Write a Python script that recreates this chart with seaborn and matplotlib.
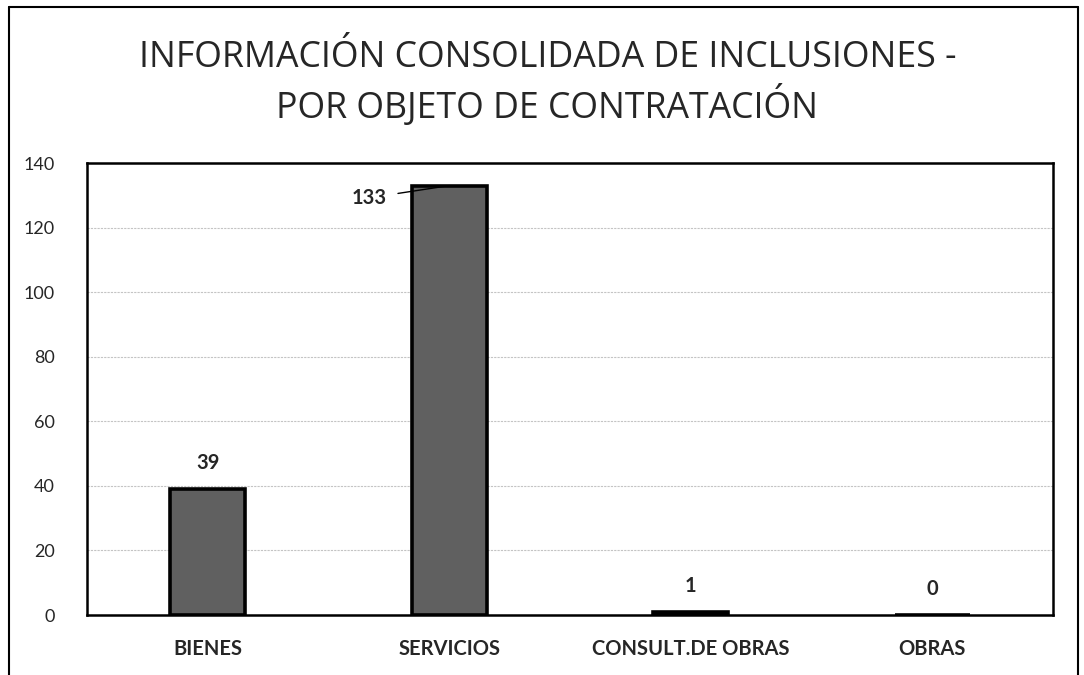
import matplotlib
matplotlib.use("Agg")
import matplotlib.pyplot as plt
import seaborn as sns
import pandas as pd
from matplotlib.lines import Line2D

categories = ["BIENES", "SERVICIOS", "CONSULT.DE OBRAS", "OBRAS"]
values = [39, 133, 1, 0]
y_ticks = [0, 20, 40, 60, 80, 100, 120, 140]
title_lines = ["INFORMACIÓN CONSOLIDADA DE INCLUSIONES -", "POR OBJETO DE CONTRATACIÓN"]

sns.set_style("white")
plt.rcParams["font.family"] = ["Lato", "DejaVu Sans"]

title_font = "Open Sans"

df = pd.DataFrame({"cat": categories, "val": values})

W, H = 1084, 675
fig = plt.figure(figsize=(W / 100, H / 100), dpi=100)
ax_left, ax_right, ax_top, ax_bottom = 87, 1053, 163, 615
ax = fig.add_axes([ax_left / W, 1 - ax_bottom / H,
                   (ax_right - ax_left) / W, (ax_bottom - ax_top) / H])

sns.barplot(data=df, x="cat", y="val", ax=ax, color="#606060",
            width=0.31, edgecolor="black", linewidth=2.6, saturation=1)

ax.set_ylim(0, 140)
ax.set_xlim(-0.5, 3.5)
ax.set_yticks(y_ticks)
ax.set_yticklabels([str(t) for t in y_ticks], fontsize=13)
ax.set_xlabel("")
ax.set_ylabel("")
ax.tick_params(axis="y", length=0, pad=23)
ax.tick_params(axis="x", length=0, pad=17)
for lab in ax.get_xticklabels():
    lab.set_fontweight("bold")
    lab.set_fontsize(14.5)

ax.yaxis.grid(True, color="#c4c4c4", linewidth=0.8, linestyle=(0, (2, 1)))
ax.set_axisbelow(True)
for s in ax.spines.values():
    s.set_visible(True)
    s.set_color("black")
    s.set_linewidth(1.8)

# data labels
for i, v in enumerate(values):
    if i == 1:
        ax.annotate(str(v), xy=(i, v), xytext=(i - 0.26, v - 3.8),
                    ha="right", va="center", fontsize=14.5, fontweight="bold",
                    arrowprops=dict(arrowstyle="-", color="black", lw=1,
                                    shrinkA=6, shrinkB=0))
    else:
        ax.text(i, v + 8, str(v), ha="center", va="center",
                fontsize=14.5, fontweight="bold")

fig.text(548 / W, 1 - 67 / H, title_lines[0], ha="center", va="baseline",
         fontsize=25.7, family=[title_font, "DejaVu Sans"])
fig.text(547 / W, 1 - 118 / H, title_lines[1], ha="center", va="baseline",
         fontsize=25.7, family=[title_font, "DejaVu Sans"])

# outer frame (left, top, right)
for xs, ys in [([9 / W, 9 / W], [0, 1 - 7 / H]),
               ([9 / W, 1078 / W], [1 - 7 / H, 1 - 7 / H]),
               ([1078 / W, 1078 / W], [0, 1 - 7 / H])]:
    fig.add_artist(Line2D(xs, ys, transform=fig.transFigure, color="black", lw=1.5))

fig.savefig("out.png", dpi=100)
